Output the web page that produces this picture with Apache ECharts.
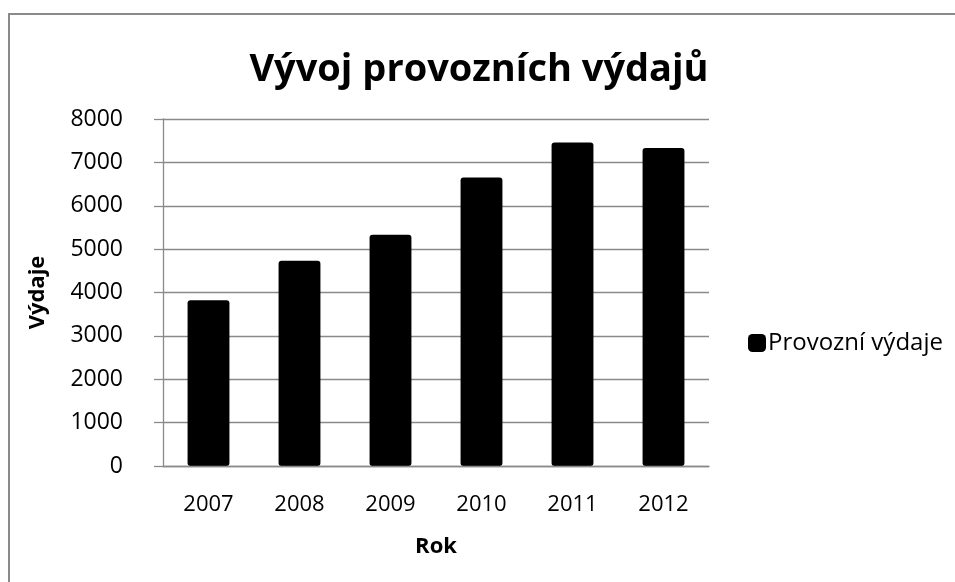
<!DOCTYPE html>
<html lang="cs" style="height: 100%">
<head>
  <meta charset="utf-8">
</head>
<body style="height: 100%; margin: 0; background: #fff">
<div id="container" style="width: 955px; height: 582px"></div>
<script type="text/javascript" src="https://cdn.jsdelivr.net/npm/echarts@6/dist/echarts.min.js"></script>
<script type="text/javascript">
  // data
  var years = ['2007', '2008', '2009', '2010', '2011', '2012'];
  var vydaje = [3820, 4730, 5330, 6650, 7460, 7330];
  var seriesName = 'Provozní výdaje';

  var font = '"Open Sans", "Liberation Sans", sans-serif';
  var gray = '#8a8a8a';

  var myChart = echarts.init(document.getElementById('container'), null, { renderer: 'canvas' });

  var option = {
    backgroundColor: '#fff',
    animation: false,
    title: {
      text: 'Vývoj provozních výdajů',
      left: 474,
      top: 46,
      textAlign: 'center',
      textStyle: { fontFamily: font, fontSize: 38, fontWeight: 'bold', color: '#000' }
    },
    legend: {
      data: [seriesName],
      left: 743,
      top: 326,
      itemWidth: 18,
      itemHeight: 18,
      itemGap: 4,
      icon: 'roundRect',
      textStyle: { fontFamily: font, fontSize: 24, color: '#000', padding: [0, 0, 0, -3] }
    },
    grid: { left: 163, right: 246, top: 119, bottom: 116 },
    xAxis: {
      type: 'category',
      data: years,
      name: 'Rok',
      nameLocation: 'middle',
      nameGap: 70,
      nameTextStyle: { fontFamily: font, fontSize: 22, fontWeight: 'bold', color: '#000' },
      z: 3,
      axisLine: { lineStyle: { color: gray, width: 1.3 } },
      axisTick: { show: false },
      axisLabel: { fontFamily: font, fontSize: 22, color: '#000', margin: 28 }
    },
    yAxis: {
      type: 'value',
      min: 0,
      max: 8000,
      interval: 1000,
      name: 'Výdaje',
      nameLocation: 'middle',
      nameGap: 114,
      nameRotate: 90,
      nameTextStyle: { fontFamily: font, fontSize: 22, fontWeight: 'bold', color: '#000' },
      axisLine: { show: true, lineStyle: { color: gray, width: 1.3 } },
      axisTick: { show: true, length: 9, lineStyle: { color: gray, width: 1.3 } },
      splitLine: { lineStyle: { color: gray, width: 1.3 } },
      axisLabel: {
        fontFamily: font, fontSize: 23, color: '#000', margin: 40,
        formatter: function (v) { return String(v); }
      }
    },
    series: [
      {
        name: seriesName,
        type: 'bar',
        data: vydaje,
        barWidth: '46%',
        itemStyle: { color: '#000', borderRadius: 3 }
      }
    ],
    graphic: [
      {
        type: 'polyline',
        shape: { points: [[9, 582], [9, 14], [955, 14]] },
        style: { stroke: gray, lineWidth: 2, fill: null }
      }
    ]
  };

  myChart.setOption(option);
</script>
</body>
</html>
